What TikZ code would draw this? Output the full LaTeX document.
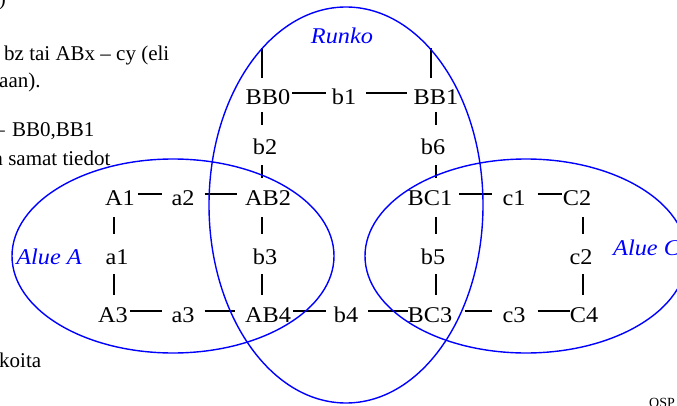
\documentclass[tikz,border=0pt]{standalone}
\usepackage{fontspec}
\setmainfont{Liberation Serif}
\newfontfamily\diag[FakeStretch=1.08]{Liberation Serif}
\begin{document}
\begin{tikzpicture}[x=1pt,y=-1pt,
  lbl/.style={inner sep=0pt, text height=23pt, text depth=0pt, font=\diag\fontsize{22.5}{26}\selectfont},
  conn/.style={line width=1.3pt, black},
  reg/.style={draw=blue, line width=1.4pt},
  regname/.style={text=blue, inner sep=0pt, font=\diag\itshape\fontsize{22.5}{26}\selectfont},
  side/.style={inner sep=0pt, font=\fontsize{21}{25}\selectfont},
  vA/.style={conn, shorten <=7.5pt, shorten >=6.5pt},
  vB/.style={conn, shorten <=10.5pt, shorten >=4.5pt},
  vC/.style={conn, shorten <=11.5pt, shorten >=7.5pt},
  vD/.style={conn, shorten <=9.5pt, shorten >=4.5pt}]
\useasboundingbox (0,0) rectangle (677,406);
\clip (0,0) rectangle (677,406);

% side texts (cut off by the slide crop)
\node[side, anchor=base east] (s0) at (6,6) {)};
\node[side, anchor=base west] (s1) at (4,61) {bz tai ABx – cy (eli};
\node[side, anchor=base west] (s2) at (-1,88) {aan).};
\node[side, anchor=base east] (s3) at (5,137) {–};
\node[side, anchor=base west] (s4) at (12,137) {BB0,BB1};
\node[side, anchor=base west] (s5) at (-6.5,166) {a samat tiedot};
\node[side, anchor=base west] (s6) at (-1,367) {koita};
\node[inner sep=0pt, anchor=base west, font=\fontsize{14}{16}\selectfont] (osp) at (649,407) {OSP};

% region names
\node[regname, anchor=base] (runko) at (342,44) {Runko};
\node[regname, anchor=base] (alueA) at (49,264.5) {Alue A};
\node[regname, anchor=base west] (alueC) at (613,255) {Alue C};

% nodes
\node[lbl] (BB0) at (268,93) {BB0};
\node[lbl] (b1)  at (344,93) {b1};
\node[lbl] (BB1) at (436,93) {BB1};
\node[lbl] (b2)  at (265,143) {b2};
\node[lbl] (b6)  at (433,143) {b6};
\node[lbl] (A1)  at (120,194) {A1};
\node[lbl] (a2)  at (183,194) {a2};
\node[lbl] (AB2) at (268,194) {AB2};
\node[lbl] (BC1) at (430,194) {BC1};
\node[lbl] (c1)  at (514,194) {c1};
\node[lbl] (C2)  at (577,194) {C2};
\node[lbl] (a1)  at (117,253) {a1};
\node[lbl] (b3)  at (265,253) {b3};
\node[lbl] (b5)  at (433,253) {b5};
\node[lbl] (c2)  at (581,253) {c2};
\node[lbl] (A3)  at (113,311) {A3};
\node[lbl] (a3)  at (183,311) {a3};
\node[lbl] (AB4) at (268,311) {AB4};
\node[lbl] (b4)  at (346,311) {b4};
\node[lbl] (BC3) at (430,311) {BC3};
\node[lbl] (c3)  at (514,311) {c3};
\node[lbl] (C4)  at (584,311) {C4};

% column coordinates for vertical connectors
\coordinate (cA) at (114,0);
\coordinate (cB) at (262,0);
\coordinate (cC) at (436,0);
\coordinate (cD) at (583,0);
\coordinate (t0) at (262,48);
\coordinate (t1) at (431,48);

% horizontal connectors
\draw[conn, shorten <=2pt,  shorten >=6pt]  (BB0.east) -- (b1.west);
\draw[conn, shorten <=10pt, shorten >=7pt]  (b1.east) -- (BB1.west);
\draw[conn, shorten <=3pt,  shorten >=9pt]  (A1.east) -- (a2.west);
\draw[conn, shorten <=10pt, shorten >=8pt]  (a2.east) -- (AB2.west);
\draw[conn, shorten <=7pt,  shorten >=10pt] (BC1.east) -- (c1.west);
\draw[conn, shorten <=12pt, shorten >=1pt]  (c1.east) -- (C2.west);
\draw[conn, shorten <=2pt,  shorten >=9pt]  (A3.east) -- (a3.west);
\draw[conn, shorten <=10pt, shorten >=10pt] (a3.east) -- (AB4.west);
\draw[conn, shorten <=2pt,  shorten >=8pt]  (AB4.east) -- (b4.west);
\draw[conn, shorten <=10pt, shorten >=0pt]  (b4.east) -- (BC3.west);
\draw[conn, shorten <=13pt, shorten >=10pt] (BC3.east) -- (c3.west);
\draw[conn, shorten <=12pt, shorten >=0pt]  (c3.east) -- (C4.west);

% vertical connectors
\draw[conn, shorten <=3.5pt] (BB0.north -| t0) -- (t0);
\draw[conn, shorten <=3.5pt] (BB1.north -| t1) -- (t1);
\draw[vA] (BB0.south -| cB) -- (b2.north -| cB);
\draw[vA] (BB1.south -| cC) -- (b6.north -| cC);
\draw[vB] (b2.south -| cB) -- (AB2.north -| cB);
\draw[vB] (b6.south -| cC) -- (BC1.north -| cC);
\draw[vC] (A1.south -| cA) -- (a1.north -| cA);
\draw[vC] (AB2.south -| cB) -- (b3.north -| cB);
\draw[vC] (BC1.south -| cC) -- (b5.north -| cC);
\draw[vC] (C2.south -| cD) -- (c2.north -| cD);
\draw[vD] (a1.south -| cA) -- (A3.north -| cA);
\draw[vD] (b3.south -| cB) -- (AB4.north -| cB);
\draw[vD] (b5.south -| cC) -- (BC3.north -| cC);
\draw[vD] (c2.south -| cD) -- (C4.north -| cD);

% regions
\draw[reg] (173,256) ellipse [x radius=161pt, y radius=97pt];
\draw[reg] (526,256) ellipse [x radius=161pt, y radius=97pt];
\draw[reg] (346,205) ellipse [x radius=137pt, y radius=198pt];
\end{tikzpicture}
\end{document}
